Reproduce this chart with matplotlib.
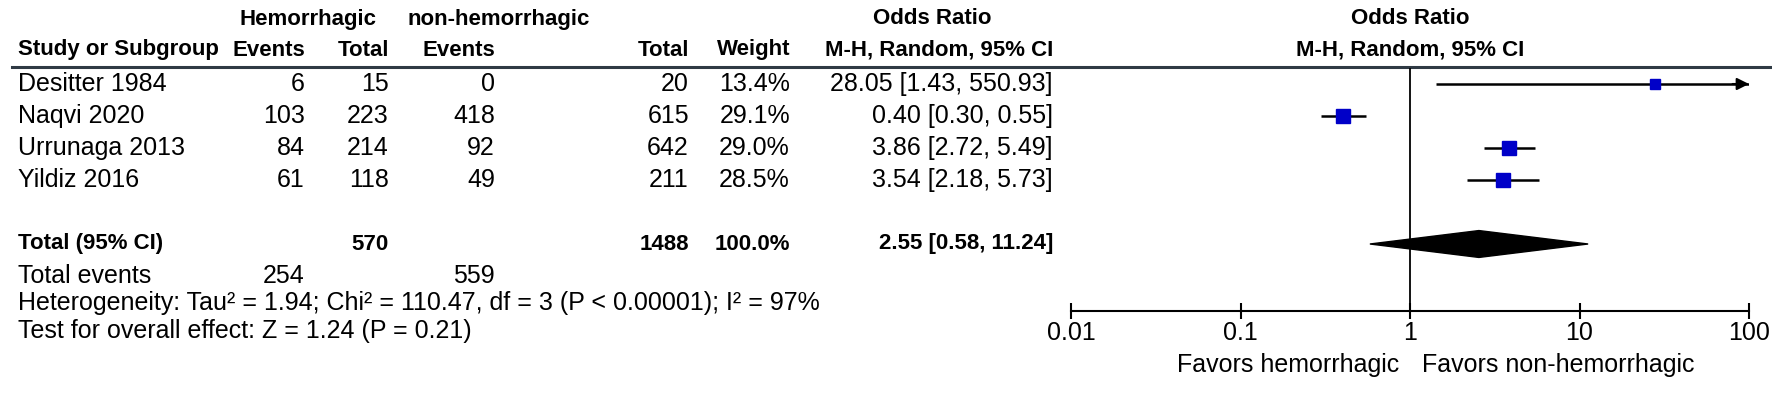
import numpy as np
import matplotlib
matplotlib.use('Agg')
import matplotlib.pyplot as plt
from matplotlib.patches import Polygon

matplotlib.rc('font', family='Liberation Sans', size=18)
BOLD_SIZE = 16

# study data
studies = ['Desitter 1984', 'Naqvi 2020', 'Urrunaga 2013', 'Yildiz 2016']
hem_events = [6, 103, 84, 61]
hem_total = [15, 223, 214, 118]
non_events = [0, 418, 92, 49]
non_total = [20, 615, 642, 211]
weights = [13.4, 29.1, 29.0, 28.5]
or_est = [28.05, 0.40, 3.86, 3.54]
or_lo = [1.43, 0.30, 2.72, 2.18]
or_hi = [550.93, 0.55, 5.49, 5.73]

# pooled
tot_hem, tot_non = 570, 1488
tot_ev_hem, tot_ev_non = 254, 559
pool_est, pool_lo, pool_hi = 2.55, 0.58, 11.24
het_text = 'Heterogeneity: Tau\u00b2 = 1.94; Chi\u00b2 = 110.47, df = 3 (P < 0.00001); I\u00b2 = 97%'
test_text = 'Test for overall effect: Z = 1.24 (P = 0.21)'

x_ticks = [0.01, 0.1, 1, 10, 100]
x_ticklabels = ['0.01', '0.1', '1', '10', '100']
favors = ['Favors hemorrhagic', 'Favors non-hemorrhagic']

W, H = 1772, 393
fig = plt.figure(figsize=(W / 100, H / 100), dpi=100)

# text table, pixel coordinates
ax_t = fig.add_axes([0, 0, 1, 1])
ax_t.set_xlim(0, W)
ax_t.set_ylim(H, 0)
ax_t.axis('off')

def txt(x, y, s, ha='left', bold=False):
    if bold:
        ax_t.text(x, y, s, ha=ha, va='center', fontweight='bold',
                  fontsize=BOLD_SIZE)
    else:
        ax_t.text(x, y, s, ha=ha, va='center')

cols = [305, 389, 495, 689, 790, 1053]
row0, drow = 84, 32

txt(240, 19, 'Hemorrhagic', bold=True)
txt(408, 19, 'non-hemorrhagic', bold=True)
txt(932, 19, 'Odds Ratio', ha='center', bold=True)
txt(1410, 19, 'Odds Ratio', ha='center', bold=True)
txt(18, 50, 'Study or Subgroup', bold=True)
for c, s in zip(cols, ['Events', 'Total', 'Events', 'Total', 'Weight',
                       'M-H, Random, 95% CI']):
    txt(c, 50, s, ha='right', bold=True)
txt(1410, 50, 'M-H, Random, 95% CI', ha='center', bold=True)
ax_t.plot([12, W], [67, 67], color='#2f3a44', lw=2.2)

for i, name in enumerate(studies):
    y = row0 + i * drow
    txt(18, y, name)
    vals = [str(hem_events[i]), str(hem_total[i]), str(non_events[i]),
            str(non_total[i]), '{:.1f}%'.format(weights[i]),
            '{:.2f} [{:.2f}, {:.2f}]'.format(or_est[i], or_lo[i], or_hi[i])]
    for c, s in zip(cols, vals):
        txt(c, y, s, ha='right')

y_tot = row0 + 5 * drow
txt(18, y_tot, 'Total (95% CI)', bold=True)
txt(cols[1], y_tot, str(tot_hem), ha='right', bold=True)
txt(cols[3], y_tot, str(tot_non), ha='right', bold=True)
txt(cols[4], y_tot, '100.0%', ha='right', bold=True)
txt(cols[5], y_tot, '{:.2f} [{:.2f}, {:.2f}]'.format(pool_est, pool_lo, pool_hi),
    ha='right', bold=True)
txt(18, 276, 'Total events')
txt(cols[0], 276, str(tot_ev_hem), ha='right')
txt(cols[2], 276, str(tot_ev_non), ha='right')
txt(18, 303, het_text)
txt(18, 331, test_text)

# forest plot axes
x0, x1 = 1071, 1749
y_top, y_bot = 68, 311
ax = fig.add_axes([x0 / W, (H - y_bot) / H, (x1 - x0) / W, (y_bot - y_top) / H])
ax.patch.set_alpha(0)
ax.set_xscale('log')
ax.set_xlim(0.01, 100)
ax.set_ylim((y_bot - row0) / drow, (y_top - row0) / drow)
for s in ['top', 'left', 'right']:
    ax.spines[s].set_visible(False)
ax.spines['bottom'].set_linewidth(1.5)
ax.set_yticks([])
ax.set_xticks(x_ticks)
ax.set_xticklabels(x_ticklabels)
ax.minorticks_off()
ax.tick_params(axis='x', direction='inout', length=11, width=1.5, pad=2)
ax.axvline(1, color='black', lw=1.3)

xmax = ax.get_xlim()[1]
for i in range(len(studies)):
    hi = min(or_hi[i], xmax)
    ax.plot([or_lo[i], hi], [i, i], color='black', lw=1.8, solid_capstyle='butt')
    if or_hi[i] > xmax:
        ax.annotate('', xy=(xmax, i), xytext=(xmax * 0.8, i),
                    arrowprops=dict(arrowstyle='-|>', color='black', lw=1.5,
                                    mutation_scale=18, shrinkA=0, shrinkB=0))
    ax.plot(or_est[i], i, marker='s', color='#0000c8', mec='#0000c8',
            markersize=2.0 * np.sqrt(weights[i]))

h = 0.42
ax.add_patch(Polygon([[pool_lo, 5], [pool_est, 5 - h], [pool_hi, 5],
                      [pool_est, 5 + h]], closed=True, color='black'))

ax.annotate(favors[0], xy=(1, 0), xycoords=('data', 'axes fraction'),
            xytext=(-8, -39), textcoords='offset points', ha='right', va='center')
ax.annotate(favors[1], xy=(1, 0), xycoords=('data', 'axes fraction'),
            xytext=(9, -39), textcoords='offset points', ha='left', va='center')

fig.savefig('out.png', dpi=100)
